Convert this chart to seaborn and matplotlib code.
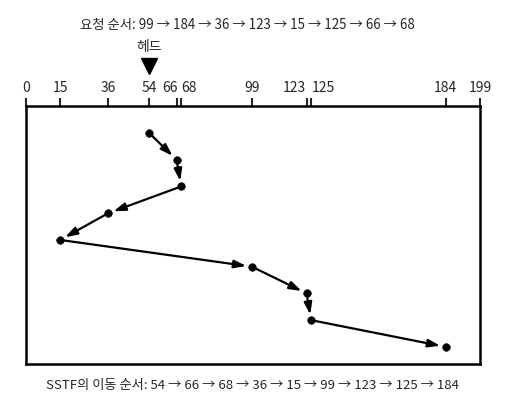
import pandas as pd
import matplotlib.pyplot as plt
import seaborn as sns

# SSTF disk scheduling: visit order of cylinders
request_order = [99, 184, 36, 123, 15, 125, 66, 68]
visit_order = [54, 66, 68, 36, 15, 99, 123, 125, 184]
tick_cylinders = [0, 15, 36, 54, 66, 68, 99, 123, 125, 184, 199]
head_start = 54

sns.set_style("white")
plt.rcParams['font.family'] = ['Noto Sans CJK KR', 'DejaVu Sans']

df = pd.DataFrame({"cylinder": visit_order, "step": range(len(visit_order))})

fig = plt.figure(figsize=(5.16, 4.04), dpi=100)
ax = fig.add_axes([26 / 516, 40 / 404, 454 / 516, 258 / 404])

# arrows between consecutive positions
for i in range(len(df) - 1):
    ax.annotate("", xy=(df.cylinder[i + 1], df.step[i + 1]),
                xytext=(df.cylinder[i], df.step[i]),
                arrowprops=dict(arrowstyle="-|>,head_length=0.55,head_width=0.18",
                                color="black", lw=1.6,
                                mutation_scale=13, shrinkA=3, shrinkB=4))

sns.scatterplot(data=df, x="cylinder", y="step", color="black", s=30,
                edgecolor="black", zorder=5, ax=ax)

ax.set_xlim(0, 199)
ax.set_ylim(8.64, -1.01)
ax.set_xlabel("")
ax.set_ylabel("")
ax.set_yticks([])

ax.xaxis.tick_top()
ax.set_xticks(tick_cylinders)
ax.set_xticklabels([])
ax.tick_params(axis="x", direction="out", length=6, width=1.5, top=True, bottom=False)

# tick labels placed by hand so that close cylinders do not collide
nudge = {66: -5, 68: 6, 123: -9, 125: 9}
for t in tick_cylinders:
    ax.annotate(str(t), xy=(t, 1), xycoords=("data", "axes fraction"),
                xytext=(nudge.get(t, 0), 13), textcoords="offset points",
                ha="center", va="center", fontsize=10)

for side in ["top", "bottom", "left", "right"]:
    ax.spines[side].set_visible(True)
    ax.spines[side].set_linewidth(1.8)
    ax.spines[side].set_color("black")

# head marker
ax.plot(head_start, -2.5, marker="v", color="black", markersize=12, clip_on=False)
ax.text(head_start, -3.2, "헤드", ha="center", va="center", fontsize=10)

fig.text(0.479, 1 - 25 / 404, "요청 순서: " + " → ".join(str(v) for v in request_order),
         ha="center", va="center", fontsize=9.6)
fig.text(0.49, 1 - 385 / 404, "SSTF의 이동 순서: " + " → ".join(str(v) for v in visit_order),
         ha="center", va="center", fontsize=9.5)

fig.savefig("out.png", dpi=100, facecolor="white")
